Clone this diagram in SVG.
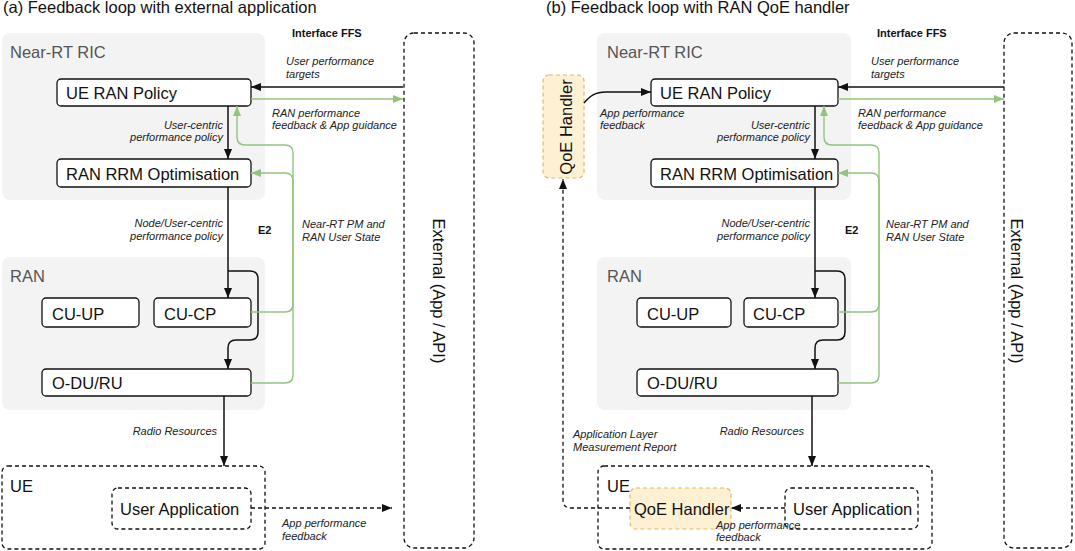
<svg xmlns="http://www.w3.org/2000/svg" width="1075" height="551" viewBox="0 0 1075 551">
<style>
text{font-family:"Liberation Sans",Arial,sans-serif;fill:#111}
.title{font-size:16.5px}
.area{fill:#f3f3f3;stroke:none}
.areat{font-size:16.5px;fill:#555}
.box{fill:#fff;stroke:#111;stroke-width:1.3}
.bt{font-size:16.5px}
.dbox{fill:#fff;stroke:#111;stroke-width:1.3;stroke-dasharray:4 3}
.qoe{fill:#fdf0d3;stroke:#d9bd6a;stroke-width:1.2;stroke-dasharray:4 3}
.lbl{font-size:11px;font-style:italic;fill:#222}
.bold{font-size:11px;font-weight:bold}
.blk{fill:none;stroke:#111;stroke-width:1.5}
.grn{fill:none;stroke:#93c47d;stroke-width:1.4}
.dsh{fill:none;stroke:#111;stroke-width:1.3;stroke-dasharray:4 3}
</style>
<defs>
<marker id="ab" markerWidth="10" markerHeight="8" refX="10" refY="4" orient="auto" markerUnits="userSpaceOnUse"><path d="M0,0 L10,4 L0,8 Z" fill="#111"/></marker>
<marker id="ag" markerWidth="10" markerHeight="8" refX="10" refY="4" orient="auto" markerUnits="userSpaceOnUse"><path d="M0,0 L10,4 L0,8 Z" fill="#93c47d"/></marker>
</defs>

<text class="title" x="3" y="13">(a) Feedback loop with external application</text>
<text class="title" x="546" y="13">(b) Feedback loop with RAN QoE handler</text>

<!-- Panel A -->
<g id="a-ric"><rect class="area" x="2" y="33" width="263" height="167" rx="8"/><text class="areat" x="10" y="58">Near-RT RIC</text></g>
<g id="a-ran"><rect class="area" x="2" y="257" width="263" height="153" rx="8"/><text class="areat" x="10" y="282">RAN</text></g>
<g id="a-ue"><rect class="dbox" x="2" y="466" width="263" height="83" rx="6"/><text class="bt" x="10" y="492">UE</text></g>
<g id="a-ext"><rect class="dbox" x="404" y="33" width="70" height="515" rx="10"/><text class="bt" x="433" y="291" text-anchor="middle" transform="rotate(90 433 291)">External (App / API)</text></g>
<g id="a-policy"><rect class="box" x="57" y="79" width="194" height="27" rx="4"/><text class="bt" x="66" y="99">UE RAN Policy</text></g>
<g id="a-rrm"><rect class="box" x="57" y="159" width="194" height="28" rx="4"/><text class="bt" x="66" y="180">RAN RRM Optimisation</text></g>
<g id="a-cuup"><rect class="box" x="42" y="298" width="97" height="29" rx="4"/><text class="bt" x="52" y="320">CU-UP</text></g>
<g id="a-cucp"><rect class="box" x="154" y="298" width="97" height="29" rx="4"/><text class="bt" x="164" y="320">CU-CP</text></g>
<g id="a-odu"><rect class="box" x="42" y="369" width="209" height="27" rx="4"/><text class="bt" x="52" y="389">O-DU/RU</text></g>
<g id="a-app"><rect class="dbox" x="112" y="488" width="139" height="41" rx="6"/><text class="bt" x="120" y="515">User Application</text></g>

<!-- Panel B -->
<g id="b-ric"><rect class="area" x="597" y="33" width="254" height="167" rx="8"/><text class="areat" x="607" y="58">Near-RT RIC</text></g>
<g id="b-ran"><rect class="area" x="597" y="257" width="254" height="153" rx="8"/><text class="areat" x="607" y="282">RAN</text></g>
<g id="b-ue"><rect class="dbox" x="598" y="466" width="334" height="83" rx="6"/><text class="bt" x="607" y="492">UE</text></g>
<g id="b-ext"><rect class="dbox" x="1004" y="33" width="68" height="515" rx="10"/><text class="bt" x="1011" y="291" text-anchor="middle" transform="rotate(90 1011 291)">External (App / API)</text></g>
<g id="b-qoe-top"><rect class="qoe" x="543" y="75" width="41" height="103" rx="6"/><text class="bt" x="572" y="127" text-anchor="middle" transform="rotate(-90 572 127)">QoE Handler</text></g>
<g id="b-policy"><rect class="box" x="651" y="79" width="187" height="27" rx="4"/><text class="bt" x="660" y="99">UE RAN Policy</text></g>
<g id="b-rrm"><rect class="box" x="651" y="159" width="187" height="28" rx="4"/><text class="bt" x="660" y="180">RAN RRM Optimisation</text></g>
<g id="b-cuup"><rect class="box" x="637" y="298" width="94" height="29" rx="4"/><text class="bt" x="647" y="320">CU-UP</text></g>
<g id="b-cucp"><rect class="box" x="744" y="298" width="94" height="29" rx="4"/><text class="bt" x="753" y="320">CU-CP</text></g>
<g id="b-odu"><rect class="box" x="637" y="369" width="201" height="27" rx="4"/><text class="bt" x="647" y="389">O-DU/RU</text></g>
<g id="b-qoe-ue"><rect class="qoe" x="630" y="488" width="101" height="41" rx="6"/><text class="bt" x="634" y="515">QoE Handler</text></g>
<g id="b-app"><rect class="dbox" x="785" y="488" width="133" height="41" rx="6"/><text class="bt" x="793" y="515">User Application</text></g>

<g id="connectors">
<!-- A -->
<path class="blk" d="M403,87 H251" marker-end="url(#ab)"/>
<path class="grn" d="M251,99 H403" marker-end="url(#ag)"/>
<path class="blk" d="M228,106 V159" marker-end="url(#ab)"/>
<path class="blk" d="M228,187 V298" marker-end="url(#ab)"/>
<path class="blk" d="M228,271 H250 Q258,271 258,279 V332 Q258,340 250,340 H236 Q228,340 228,348 V369" marker-end="url(#ab)"/>
<path class="blk" d="M224,396 V466" marker-end="url(#ab)"/>
<path class="grn" d="M251,383 H285 Q293,383 293,375 V153 Q293,145 285,145 H245 Q237,145 237,137 V106" marker-end="url(#ag)"/>
<path class="grn" d="M251,312 H285 Q293,312 293,304 V181 Q293,173 285,173 H251" marker-end="url(#ag)"/>
<path class="dsh" d="M251,508 H392" marker-end="url(#ab)"/>
<!-- B -->
<path class="blk" d="M1004,87 H838" marker-end="url(#ab)"/>
<path class="grn" d="M838,99 H1004" marker-end="url(#ag)"/>
<path class="blk" d="M815,106 V159" marker-end="url(#ab)"/>
<path class="blk" d="M815,187 V298" marker-end="url(#ab)"/>
<path class="blk" d="M815,271 H837 Q845,271 845,279 V332 Q845,340 837,340 H823 Q815,340 815,348 V369" marker-end="url(#ab)"/>
<path class="blk" d="M812,396 V466" marker-end="url(#ab)"/>
<path class="grn" d="M838,383 H871 Q879,383 879,375 V153 Q879,145 871,145 H832 Q824,145 824,137 V106" marker-end="url(#ag)"/>
<path class="grn" d="M838,312 H871 Q879,312 879,304 V181 Q879,173 871,173 H838" marker-end="url(#ag)"/>
<path class="blk" d="M584,103 C590,96 595,92 606,92 H651" marker-end="url(#ab)"/>
<path class="dsh" d="M785,508 H731" marker-end="url(#ab)"/>
<path class="dsh" d="M630,508 H571 Q563,508 563,500 V179" marker-end="url(#ab)"/>
</g>

<g id="labels">
<text class="bold" x="292" y="37">Interface FFS</text>
<text class="lbl" x="286" y="65">User performance</text>
<text class="lbl" x="286" y="78">targets</text>
<text class="lbl" x="272" y="117">RAN performance</text>
<text class="lbl" x="272" y="129">feedback &amp; App guidance</text>
<text class="lbl" x="223" y="129" text-anchor="end">User-centric</text>
<text class="lbl" x="223" y="141" text-anchor="end">performance policy</text>
<text class="lbl" x="223" y="227" text-anchor="end">Node/User-centric</text>
<text class="lbl" x="223" y="240" text-anchor="end">performance policy</text>
<text class="bold" x="258" y="234">E2</text>
<text class="lbl" x="302" y="228">Near-RT PM and</text>
<text class="lbl" x="302" y="241">RAN User State</text>
<text class="lbl" x="217" y="435" text-anchor="end">Radio Resources</text>
<text class="lbl" x="282" y="527">App performance</text>
<text class="lbl" x="282" y="540">feedback</text>

<text class="bold" x="877" y="37">Interface FFS</text>
<text class="lbl" x="871" y="65">User performance</text>
<text class="lbl" x="871" y="78">targets</text>
<text class="lbl" x="858" y="117">RAN performance</text>
<text class="lbl" x="858" y="129">feedback &amp; App guidance</text>
<text class="lbl" x="600" y="117">App performance</text>
<text class="lbl" x="600" y="129">feedback</text>
<text class="lbl" x="810" y="129" text-anchor="end">User-centric</text>
<text class="lbl" x="810" y="141" text-anchor="end">performance policy</text>
<text class="lbl" x="810" y="227" text-anchor="end">Node/User-centric</text>
<text class="lbl" x="810" y="240" text-anchor="end">performance policy</text>
<text class="bold" x="845" y="234">E2</text>
<text class="lbl" x="886" y="228">Near-RT PM and</text>
<text class="lbl" x="886" y="241">RAN User State</text>
<text class="lbl" x="804" y="435" text-anchor="end">Radio Resources</text>
<text class="lbl" x="573" y="438">Application Layer</text>
<text class="lbl" x="573" y="451">Measurement Report</text>
<text class="lbl" x="716" y="529">App performance</text>
<text class="lbl" x="716" y="541">feedback</text>
</g>
</svg>
